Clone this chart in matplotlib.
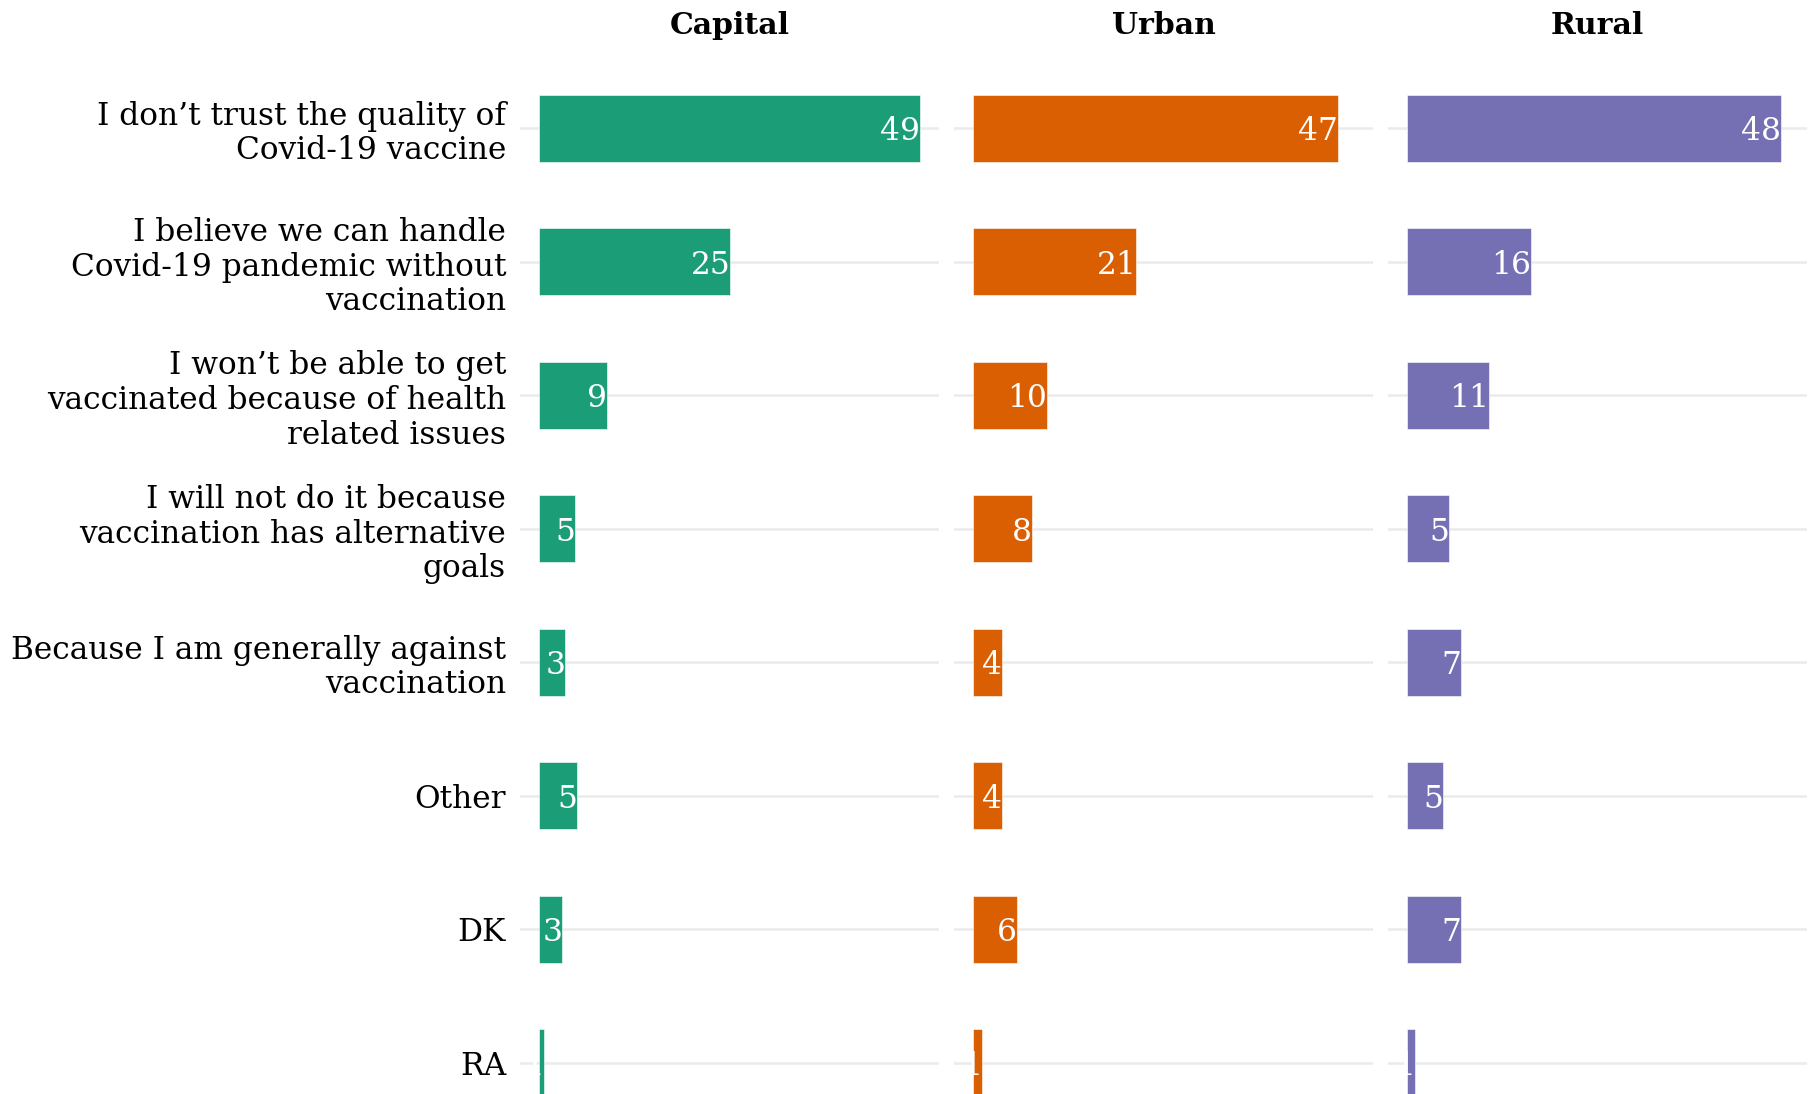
import matplotlib.pyplot as plt
import numpy as np

# reasons (top to bottom)
reasons = [
    "I don\u2019t trust the quality of\nCovid-19 vaccine",
    "I believe we can handle\nCovid-19 pandemic without\nvaccination",
    "I won\u2019t be able to get\nvaccinated because of health\nrelated issues",
    "I will not do it because\nvaccination has alternative\ngoals",
    "Because I am generally against\nvaccination",
    "Other",
    "DK",
    "RA",
]
regions = ["Capital", "Urban", "Rural"]
capital = [49.0, 24.6, 8.8, 4.6, 3.4, 4.9, 3.0, 0.6]
urban = [46.9, 21.0, 9.5, 7.6, 3.7, 3.7, 5.7, 1.2]
rural = [48.1, 15.9, 10.6, 5.4, 7.0, 4.6, 7.0, 1.0]
colors = ["#1B9E77", "#D95F02", "#7570B3"]

plt.rcParams['font.family'] = ['DejaVu Serif']

fig = plt.figure(figsize=(18.13, 10.94), dpi=100)
W, H = 1813, 1094

series = [capital, urban, rural]
xmax = max(max(s) for s in series)
ypos = np.arange(len(reasons))

lefts = [520, 954, 1388]
for i, (name, vals, col) in enumerate(zip(regions, series, colors)):
    ax = fig.add_axes([lefts[i] / W, -48.7 / H, 419 / W, 1094.5 / H])
    for y in ypos:
        ax.axhline(y, color="#EBEBEB", lw=1.8, zorder=0)
    ax.barh(ypos, vals, height=0.5, color=col, edgecolor="white", linewidth=0.4, zorder=2)
    for y, v in zip(ypos, vals):
        ax.text(v, y, f"{v:.0f}", ha="right", va="center_baseline", color="white",
                fontsize=22.5, zorder=3)
    ax.set_xlim(-0.05 * xmax, 1.05 * xmax)
    ax.set_ylim(len(reasons) - 0.4, -0.6)
    ax.set_xticks([])
    ax.set_yticks(ypos)
    if i == 0:
        ax.set_yticklabels(reasons, fontsize=22.5, linespacing=1.15)
        ax.tick_params(axis="y", length=0, pad=10)
    else:
        ax.set_yticklabels([])
        ax.tick_params(axis="y", length=0)
    for s in ax.spines.values():
        s.set_visible(False)
    fig.text((lefts[i] + 209.5) / W, 1 - 25.5 / H, name, ha="center", va="center",
             fontsize=21.5, fontweight="bold")

fig.savefig("out.png", dpi=100)
